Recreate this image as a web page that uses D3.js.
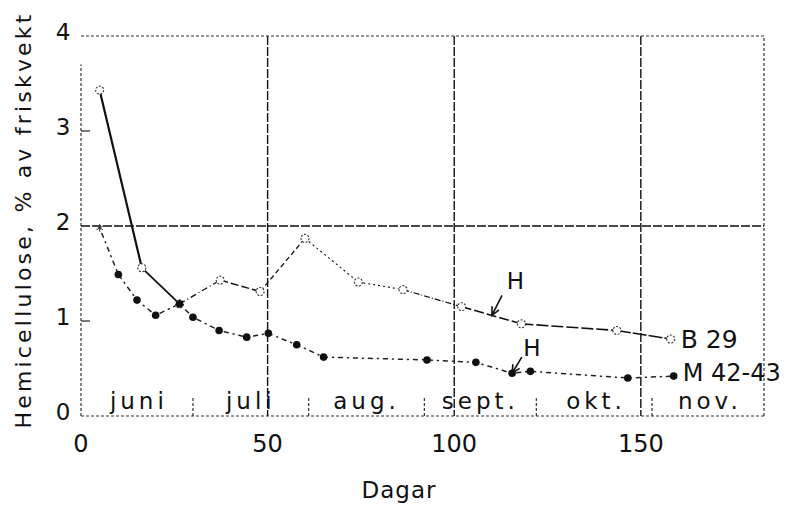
<!DOCTYPE html>
<html>
<head>
<meta charset="utf-8">
<script src="https://cdn.jsdelivr.net/npm/d3@7"></script>
<style>
  body { margin: 0; background: #fff; }
  text { font-family: "DejaVu Sans", sans-serif; fill: #111; }
</style>
</head>
<body>
<svg></svg>
<script>
//Data
var b29Days   = [5, 16.3, 26.4, 37.3, 48, 60, 74.3, 86.3, 102, 118, 143.6, 158];
var b29Values = [3.43, 1.56, 1.18, 1.43, 1.31, 1.87, 1.41, 1.33, 1.15, 0.97, 0.9, 0.81];
var mDays     = [5, 10, 15, 20, 26.4, 30, 37, 44.4, 50.2, 57.8, 65, 92.7, 105.8, 115.5, 120.4, 146.5, 158.8];
var mValues   = [1.98, 1.49, 1.22, 1.06, 1.18, 1.04, 0.9, 0.83, 0.87, 0.75, 0.62, 0.59, 0.565, 0.45, 0.47, 0.4, 0.42];
var months    = ["juni", "juli", "aug.", "sept.", "okt.", "nov."];
var monthMid  = [15.5, 45.5, 76.5, 107, 138, 168.5];
var monthEnds = [30, 61, 92, 122, 153];
var xTicks    = [0, 50, 100, 150];
var yTicks    = [0, 1, 2, 3, 4];

//Set Dimensions of svg
var width = 795;
var height = 505;
var svg = d3.select('svg')
            .attr('width', width)
            .attr('height', height);

//Scales
var x = d3.scaleLinear().domain([0, 183]).range([81, 764]);
var y = d3.scaleLinear().domain([0, 4]).range([416, 36]);

//Frame, dotted like the scan
var frame = svg.append("g")
               .attr("fill", "none")
               .attr("stroke", "#333")
               .attr("stroke-width", 1.2)
               .attr("stroke-dasharray", "3,2");
frame.append("line").attr("x1", x(0)).attr("x2", x(183)).attr("y1", y(4)).attr("y2", y(4));
frame.append("line").attr("x1", x(0)).attr("x2", x(183)).attr("y1", y(0)).attr("y2", y(0));
frame.append("line").attr("x1", x(0)).attr("x2", x(0)).attr("y1", y(0)).attr("y2", y(3.7));
frame.append("line").attr("x1", x(183)).attr("x2", x(183)).attr("y1", y(0)).attr("y2", y(4));

//Grid lines
var grid = svg.append("g")
              .attr("stroke", "#111")
              .attr("stroke-width", 1.4)
              .attr("stroke-dasharray", "9,2");
grid.selectAll("line.v")
    .data(xTicks.slice(1))
    .enter()
    .append("line")
    .attr("x1", d => x(d)).attr("x2", d => x(d))
    .attr("y1", y(4)).attr("y2", y(0));
grid.append("line")
    .attr("x1", x(0)).attr("x2", x(183))
    .attr("y1", y(2)).attr("y2", y(2));

//Short inward ticks on y axis
svg.selectAll("line.ytick")
   .data([1, 3])
   .enter()
   .append("line")
   .attr("x1", x(0)).attr("x2", x(0) + 9)
   .attr("y1", d => y(d)).attr("y2", d => y(d))
   .attr("stroke", "#222")
   .attr("stroke-width", 1.2);

//Tick labels
svg.selectAll("text.xt")
   .data(xTicks)
   .enter()
   .append("text")
   .attr("x", d => x(d))
   .attr("y", 452)
   .attr("text-anchor", "middle")
   .style("font-size", "24px")
   .text(d => d);

svg.selectAll("text.yt")
   .data(yTicks)
   .enter()
   .append("text")
   .attr("x", 63)
   .attr("y", d => y(d) + 4)
   .attr("text-anchor", "middle")
   .style("font-size", "23px")
   .text(d => d);

//Axis titles
svg.append("text")
   .attr("x", 399).attr("y", 498)
   .attr("text-anchor", "middle")
   .style("font-size", "23px")
   .style("letter-spacing", "1px")
   .text("Dagar");

svg.append("text")
   .attr("transform", "translate(31,220) rotate(-90)")
   .attr("text-anchor", "middle")
   .style("font-size", "22px")
   .style("letter-spacing", "3.2px")
   .text("Hemicellulose, % av friskvekt");

//Month labels and separators inside the plot
svg.selectAll("text.month")
   .data(months)
   .enter()
   .append("text")
   .attr("x", (d, i) => x(monthMid[i]))
   .attr("y", 409)
   .attr("text-anchor", "middle")
   .style("font-size", "23px")
   .style("letter-spacing", "4px")
   .text(d => d);

svg.selectAll("line.sep")
   .data(monthEnds)
   .enter()
   .append("line")
   .attr("x1", d => x(d)).attr("x2", d => x(d))
   .attr("y1", y(0) - 18).attr("y2", y(0))
   .attr("stroke", "#333")
   .attr("stroke-width", 1.2)
   .attr("stroke-dasharray", "3,2");

//Series lines, drawn segment by segment to keep the mixed pen strokes
var b29Pts = b29Days.map((d, i) => [x(d), y(b29Values[i])]);
var mPts = mDays.map((d, i) => [x(d), y(mValues[i])]);
var b29Dash = ["none", "none", "6,3,1,3", "8,3", "5,3", "2,3", "2,3", "6,2,1,2", "10,3", "12,3", "14,2"];
var b29Width = [2.2, 1.8, 1.3, 1.5, 1.3, 1.1, 1.1, 1.2, 1.6, 1.6, 1.6];

svg.append("g")
   .selectAll("line")
   .data(d3.pairs(b29Pts))
   .enter()
   .append("line")
   .attr("x1", d => d[0][0]).attr("y1", d => d[0][1])
   .attr("x2", d => d[1][0]).attr("y2", d => d[1][1])
   .attr("stroke", "#111")
   .attr("stroke-width", (d, i) => b29Width[i])
   .attr("stroke-dasharray", (d, i) => b29Dash[i]);

svg.append("path")
   .datum(mPts)
   .attr("d", d3.line())
   .attr("fill", "none")
   .attr("stroke", "#222")
   .attr("stroke-width", 1.5)
   .attr("stroke-linecap", "round")
   .attr("stroke-dasharray", "1,5,4,5");

//Markers
svg.selectAll("circle.b")
   .data(b29Pts)
   .enter()
   .append("circle")
   .attr("cx", d => d[0]).attr("cy", d => d[1])
   .attr("r", 4)
   .attr("fill", "#fff")
   .attr("stroke", "#333")
   .attr("stroke-width", 1.1)
   .attr("stroke-dasharray", "2,1.5");

//First M point is drawn as a small open star in the scan
svg.append("path")
   .attr("d", d3.symbol(d3.symbolAsterisk, 40)())
   .attr("transform", "translate(" + mPts[0][0] + "," + mPts[0][1] + ")")
   .attr("fill", "none")
   .attr("stroke", "#333")
   .attr("stroke-width", 1);

svg.selectAll("circle.m")
   .data(mPts.slice(1))
   .enter()
   .append("circle")
   .attr("cx", d => d[0]).attr("cy", d => d[1])
   .attr("r", 3.8)
   .attr("fill", "#111");

//Series labels at line ends
svg.append("text")
   .attr("x", x(b29Days[b29Days.length - 1]) + 10)
   .attr("y", y(b29Values[b29Values.length - 1]))
   .attr("dominant-baseline", "central")
   .style("font-size", "25px")
   .text("B 29");

svg.append("text")
   .attr("x", x(mDays[mDays.length - 1]) + 9)
   .attr("y", y(mValues[mValues.length - 1]) - 3)
   .attr("dominant-baseline", "central")
   .style("font-size", "24px")
   .text("M 42-43");

//H arrows: [label day, label value, tail day, tail value, tip day, tip value]
var hNotes = [
  [116.4, 1.42, 112.8, 1.27, 110.1, 1.06],
  [120.8, 0.72, 118.1, 0.62, 115.5, 0.45]
];

hNotes.forEach(function(h) {
  svg.append("text")
     .attr("x", x(h[0])).attr("y", y(h[1]))
     .attr("text-anchor", "middle")
     .attr("dominant-baseline", "central")
     .style("font-size", "23px")
     .text("H");
  var x1 = x(h[2]), y1 = y(h[3]), x2 = x(h[4]), y2 = y(h[5]);
  var a = Math.atan2(y2 - y1, x2 - x1);
  var len = 9;
  svg.append("path")
     .attr("d", "M" + x1 + "," + y1 + "L" + x2 + "," + y2 +
                "M" + (x2 - len * Math.cos(a - 0.45)) + "," + (y2 - len * Math.sin(a - 0.45)) +
                "L" + x2 + "," + y2 +
                "L" + (x2 - len * Math.cos(a + 0.45)) + "," + (y2 - len * Math.sin(a + 0.45)))
     .attr("fill", "none")
     .attr("stroke", "#111")
     .attr("stroke-width", 1.6);
});
</script>
</body>
</html>
